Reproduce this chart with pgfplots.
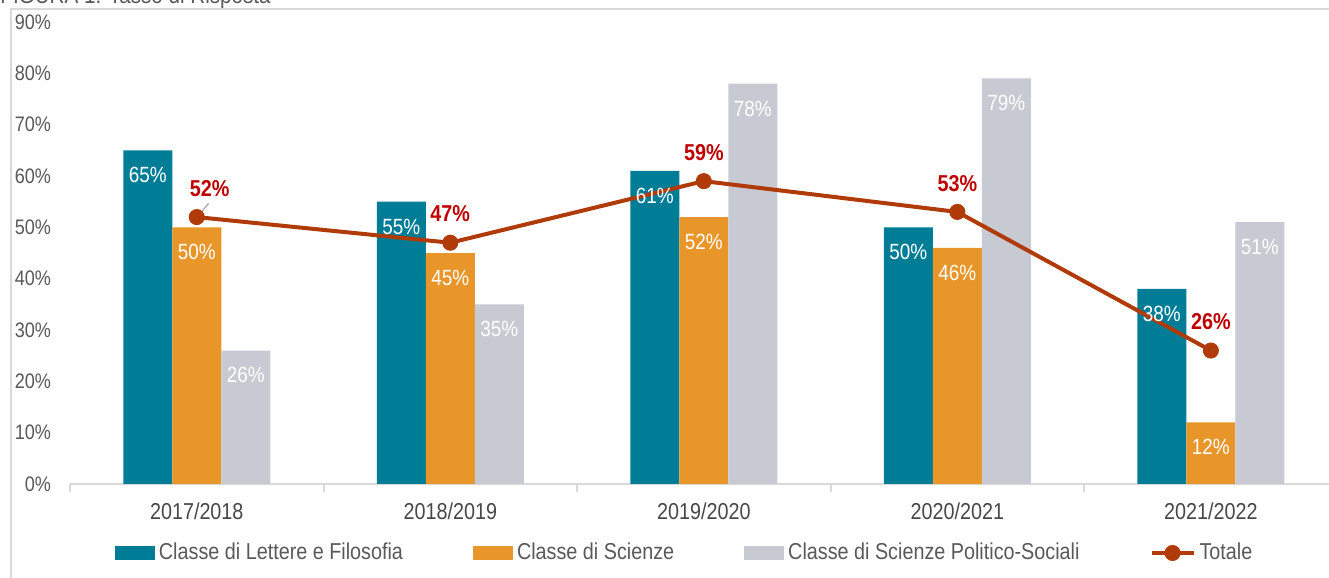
\documentclass[border=0pt]{standalone}
\usepackage{pgfplots}
\pgfplotsset{compat=1.18}
\usepackage{fontspec}
\setmainfont{Liberation Sans}[FakeStretch=0.86]
\definecolor{teal1}{HTML}{007D96}
\definecolor{orange1}{HTML}{E8962A}
\definecolor{gray1}{HTML}{C8CAD3}
\definecolor{tot}{HTML}{B03A08}
\definecolor{totlab}{HTML}{C00000}
\definecolor{txt}{HTML}{595959}
\definecolor{frame}{HTML}{D9D9D9}
\begin{document}
\begin{tikzpicture}
\useasboundingbox (-35pt,-47pt) rectangle (629.5pt,242pt);
\draw[frame, line width=1pt] (-29.5pt,-60pt) -- (-29.5pt,237.5pt) -- (640pt,237.5pt);
\node[anchor=base west, text=txt, font=\fontsize{12}{14}\selectfont, inner sep=0pt] at (-35pt,240pt) {FIGURA 1: Tasso di Risposta};
\begin{axis}[
    at={(0pt,0pt)}, anchor=south west,
    scale only axis,
    width=629.5pt, height=231pt,
    xmin=-0.5, xmax=4.466,
    ymin=0, ymax=90,
    ybar=0pt, bar width=24.5pt,
    axis lines=left,
    axis line style={draw=none},
    clip=false,
    /pgf/number format/assume math mode=true,
    ytick={0,10,...,90},
    yticklabel={\pgfmathprintnumber{\tick}\%},
    yticklabel style={text=txt, font=\fontsize{10.5}{12}\selectfont, xshift=-6pt},
    xtick={0,1,2,3,4},
    xticklabels={2017/2018,2018/2019,2019/2020,2020/2021,2021/2022},
    xticklabel style={text=txt!80!black, font=\fontsize{11.5}{13}\selectfont, yshift=-6pt},
    major tick length=0pt,
    legend columns=4,
    legend style={at={(0.489,-34.5pt)}, anchor=center, draw=none, fill=none,
        font=\fontsize{11.5}{13}\selectfont, text=txt,
        /tikz/every even column/.append style={column sep=33pt},
        inner sep=0pt},
    nodes near coords={\pgfmathprintnumber{\pgfplotspointmeta}\%},
    every node near coord/.append style={font=\fontsize{11}{13}\selectfont, text=white, anchor=north, yshift=-5pt},
]
% axis line and separators
\draw[frame, line width=1pt] (axis cs:-0.5,0) -- (axis cs:4.6,0);
\pgfplotsinvokeforeach{-0.5,0.5,1.5,2.5,3.5}{
  \draw[frame, line width=1pt] (axis cs:#1,0) -- ++(0pt,-4pt);
}

\addplot[fill=teal1, draw=none, bar shift=-24.5pt,
  legend image code/.code={\fill[teal1] (0pt,-3.5pt) rectangle (20pt,3.5pt);}]
  coordinates {(0,65) (1,55) (2,61) (3,50) (4,38)};
\addlegendentry{Classe di Lettere e Filosofia}
\addplot[fill=orange1, draw=none, bar shift=0pt,
  legend image code/.code={\fill[orange1] (0pt,-3.5pt) rectangle (20pt,3.5pt);}]
  coordinates {(0,50) (1,45) (2,52) (3,46) (4,12)};
\addlegendentry{Classe di Scienze}
\addplot[fill=gray1, draw=none, bar shift=24.5pt,
  legend image code/.code={\fill[gray1] (0pt,-3.5pt) rectangle (20pt,3.5pt);}]
  coordinates {(0,26) (1,35) (2,78) (3,79) (4,51)};
\addlegendentry{Classe di Scienze Politico-Sociali}
\addplot[sharp plot, bar shift=0pt, tot, line width=2pt, mark=*, mark size=3pt, mark options={fill=tot, draw=tot},
  visualization depends on={value \coordindex \as \idx},
  nodes near coords={\textbf{\pgfmathprintnumber{\pgfplotspointmeta}\%}},
  every node near coord/.style={font=\fontsize{11.5}{13}\selectfont, text=totlab, anchor=south, yshift=6pt, xshift={(\idx==0)*6.5pt}},
  legend image code/.code={\draw[tot, line width=2pt] (0pt,0pt) -- (21pt,0pt); \fill[tot] (10.5pt,0pt) circle (3pt);}]
  coordinates {(0,52) (1,47) (2,59) (3,53) (4,26)};
\addlegendentry{Totale}
\draw[gray!70, line width=0.6pt] (axis cs:0,52) ++(1.5pt,1.5pt) -- ++(4.5pt,5.5pt);
\end{axis}
\end{tikzpicture}
\end{document}
